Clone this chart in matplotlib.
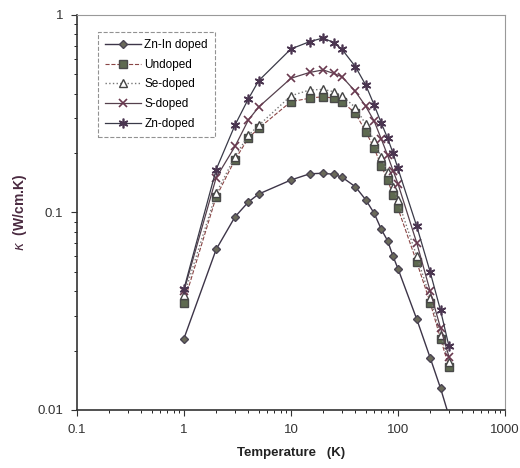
import matplotlib.pyplot as plt

plt.rcParams['font.family'] = ['Liberation Sans', 'DejaVu Sans']

temp = [1, 2, 3, 4, 5, 10, 15, 20, 25, 30, 40, 50, 60, 70, 80, 90, 100, 150, 200, 250, 300]

k_znin = [0.023, 0.065, 0.095, 0.113, 0.124, 0.146, 0.157, 0.158, 0.156, 0.151, 0.135,
          0.116, 0.099, 0.082, 0.072, 0.060, 0.052, 0.0288, 0.0184, 0.0129, 0.0093]
k_undoped = [0.035, 0.120, 0.185, 0.238, 0.267, 0.364, 0.379, 0.386, 0.379, 0.364, 0.318,
             0.257, 0.211, 0.172, 0.146, 0.123, 0.105, 0.056, 0.035, 0.023, 0.0165]
k_se = [0.038, 0.125, 0.192, 0.246, 0.276, 0.390, 0.417, 0.420, 0.409, 0.390, 0.340,
        0.280, 0.230, 0.190, 0.160, 0.135, 0.115, 0.060, 0.037, 0.024, 0.0175]
k_s = [0.040, 0.150, 0.216, 0.294, 0.342, 0.478, 0.512, 0.527, 0.506, 0.487, 0.410,
       0.345, 0.290, 0.235, 0.195, 0.163, 0.140, 0.070, 0.040, 0.026, 0.0186]
k_zn = [0.041, 0.165, 0.277, 0.376, 0.465, 0.673, 0.733, 0.765, 0.725, 0.670, 0.548,
        0.442, 0.350, 0.283, 0.238, 0.200, 0.167, 0.085, 0.050, 0.032, 0.021]

fig = plt.figure(figsize=(5.2, 4.68), dpi=100)
ax = fig.add_axes([0.148, 0.124, 0.823, 0.844])

ax.plot(temp, k_znin, '-', color='#3d3548', lw=1.0, marker='D', ms=4.5,
        mfc='#6a6a5a', mec='#4a4452', label='Zn-In doped')
ax.plot(temp, k_undoped, '--', color='#8a4545', lw=0.8, marker='s', ms=6,
        mfc='#5e6a50', mec='#4a4a4a', label='Undoped')
ax.plot(temp, k_se, ':', color='#777777', lw=1.0, marker='^', ms=5.5,
        mfc='white', mec='#444444', label='Se-doped')
ax.plot(temp, k_s, '-', color='#55404d', lw=0.9, marker='x', ms=6, mew=1.2,
        mec='#6a3a50', label='S-doped')
ax.plot(temp, k_zn, '-', color='#3a3a48', lw=0.9, marker=(6, 2, 0), ms=7, mew=1.2,
        mec='#4a3550', label='Zn-doped')

ax.set_xscale('log')
ax.set_yscale('log')
ax.set_xlim(0.1, 1000)
ax.set_ylim(0.01, 1)
ax.set_xticks([0.1, 1, 10, 100, 1000])
ax.set_xticklabels(['0.1', '1', '10', '100', '1000'])
ax.set_yticks([0.01, 0.1, 1])
ax.set_yticklabels(['0.01', '0.1', '1'])
ax.tick_params(labelsize=9.5, colors='#333333', direction='out', length=4, pad=6)
ax.tick_params(which='minor', direction='out', length=2.5)

for side in ['top', 'right']:
    ax.spines[side].set_color('#999999')
    ax.spines[side].set_linewidth(0.8)
for side in ['left', 'bottom']:
    ax.spines[side].set_color('#333333')
    ax.spines[side].set_linewidth(1.2)

ax.set_xlabel('Temperature   (K)', fontsize=9.5, fontweight='bold', color='#222222', labelpad=8)
ax.set_ylabel(r'$\kappa$  (W/cm.K)', fontsize=10, fontweight='bold', color='#4a2a40', labelpad=6)

leg = ax.legend(loc='upper left', bbox_to_anchor=(0.036, 0.972), fontsize=8.5,
                frameon=True, fancybox=False, borderpad=0.6, labelspacing=0.65,
                handlelength=3.0, handletextpad=0.3)
leg.get_frame().set_edgecolor('#777777')
leg.get_frame().set_linewidth(0.8)
leg.get_frame().set_linestyle('--')

fig.savefig('out.png', dpi=100)
